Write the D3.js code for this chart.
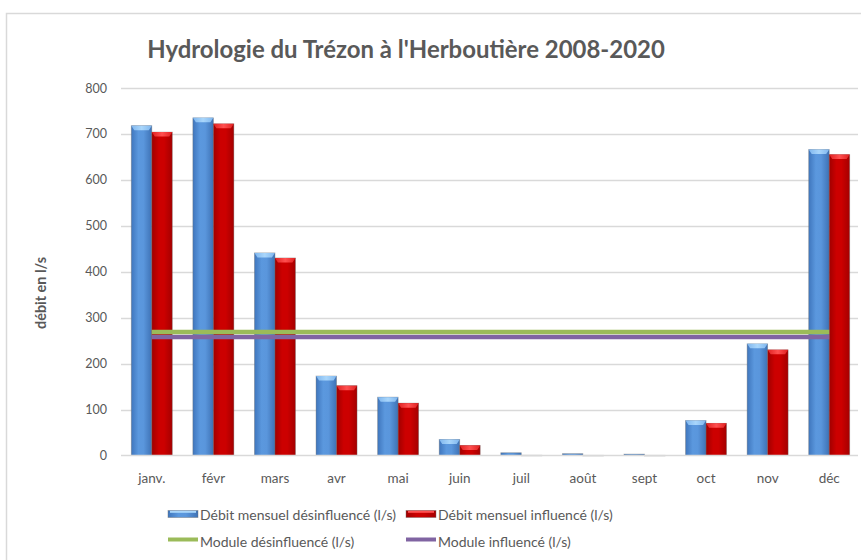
<!DOCTYPE html>
<html><head><meta charset="utf-8">
<script src="https://cdn.jsdelivr.net/npm/d3@7"></script>
<style>
html,body{margin:0;padding:0;background:#fff;}
svg{display:block;font-family:Lato,"Open Sans",sans-serif;}
</style></head>
<body><svg id="chart" width="861" height="560"></svg>
<script>
const months = ["janv.","févr","mars","avr","mai","juin","juil","août","sept","oct","nov","déc"];
const desinfluence = [718, 735, 441, 173, 127, 35, 6, 4, 3, 76, 243, 666];
const influence = [704, 722, 430, 152, 114, 22, 0.6, 0.4, 0.4, 70, 230, 655];
const moduleDesinfluence = 269;
const moduleInfluence = 258;
const yTicks = [0,100,200,300,400,500,600,700,800];
const seriesNames = ["Débit mensuel désinfluencé (l/s)","Débit mensuel influencé (l/s)","Module désinfluencé (l/s)","Module influencé (l/s)"];
const titleText = "Hydrologie du Trézon à l'Herboutière 2008-2020";
const yTitle = "débit en l/s";

const svg = d3.select("#chart");
const defs = svg.append("defs");
function grad(id, stops){
  const g = defs.append("linearGradient").attr("id",id).attr("x1","0").attr("x2","1").attr("y1","0").attr("y2","0");
  stops.forEach(s=>g.append("stop").attr("offset",s[0]).attr("stop-color",s[1]));
}
grad("gBlue",[[0,"#3f76bd"],[0.35,"#5b98de"],[0.6,"#5a96dc"],[1,"#3e72b5"]]);
grad("gRed",[[0,"#a00000"],[0.35,"#cc0000"],[0.6,"#cc0000"],[1,"#a40000"]]);
grad("gBlueTop",[[0,"#7fb6ee"],[0.5,"#a9d6fb"],[1,"#7fb6ee"]]);
grad("gRedTop",[[0,"#e02020"],[0.5,"#ff5050"],[1,"#e02020"]]);

// frame
svg.append("rect").attr("x",6.5).attr("y",13.5).attr("width",870).attr("height",560)
  .attr("fill","#fff").attr("stroke","#d9d9d9").attr("stroke-width",1.5);

const x = d3.scaleBand().domain(months).range([121,860]).paddingInner(0).paddingOuter(0);
const y = d3.scaleLinear().domain([0,800]).range([455.5,88]);
const bw = 20.5;

// gridlines
const grid = svg.append("g");
grid.selectAll("line").data(yTicks.filter(d=>d>0)).join("line")
  .attr("x1",121).attr("x2",858).attr("y1",d=>Math.round(y(d))+0.5).attr("y2",d=>Math.round(y(d))+0.5)
  .attr("stroke","#d9d9d9").attr("stroke-width",1.3);

// y axis labels
const yAxis = d3.axisLeft(y).tickValues(yTicks).tickSize(0).tickPadding(0);
const ya = svg.append("g").attr("transform","translate(107,0)").call(yAxis);
ya.select(".domain").remove();
ya.selectAll("text").attr("font-size",12.5).attr("fill","#595959").attr("font-family","Lato,sans-serif");

// bars
const mcx = d => x(d) + x.bandwidth()/2;
function drawBars(vals, off, fill, topFill){
  const g = svg.append("g");
  months.forEach((m,i)=>{
    const x0 = mcx(m) + off;
    const yt = y(vals[i]);
    const h = y(0) - yt;
    g.append("rect").attr("x",x0).attr("y",yt).attr("width",bw).attr("height",Math.max(h,0.6))
      .attr("fill",fill).attr("stroke","#6a6a6a").attr("stroke-opacity",0.45).attr("stroke-width",0.8);
    if (h > 4){
      const bev = 4.5;
      g.append("path").attr("d",`M${x0},${yt} L${x0+bw},${yt} L${x0+bw-3},${yt+bev} L${x0+3},${yt+bev} Z`)
        .attr("fill",topFill);
    }
  });
}
drawBars(desinfluence, -bw, "url(#gBlue)", "url(#gBlueTop)");
drawBars(influence, 0, "url(#gRed)", "url(#gRedTop)");

// axis baseline
svg.append("line").attr("x1",121).attr("x2",858).attr("y1",455.5).attr("y2",455.5)
  .attr("stroke","#d9d9d9").attr("stroke-width",1.3);

// module lines
const lineGen = d3.line().x(d=>mcx(d[0])).y(d=>y(d[1]));
svg.append("path").attr("d",lineGen(months.map(m=>[m,moduleInfluence])))
  .attr("stroke","#8064a2").attr("stroke-width",4.5).attr("fill","none");
svg.append("path").attr("d",lineGen(months.map(m=>[m,moduleDesinfluence])))
  .attr("stroke","#9bbb59").attr("stroke-width",4.5).attr("fill","none");

// x axis labels
const xAxis = d3.axisBottom(x).tickSize(0).tickPadding(0);
const xa = svg.append("g").attr("transform","translate(0,475)").call(xAxis);
xa.select(".domain").remove();
xa.selectAll("text").attr("font-size",13.5).attr("fill","#595959").attr("font-family","Lato,sans-serif").attr("dy","0.6em");

// helper: fit text width
function fitWidth(sel, target, base){
  const w = sel.node().getComputedTextLength();
  if (w > 0) sel.attr("font-size", base * target / w);
}

// title
const t = svg.append("text").attr("x",406).attr("y",58).attr("text-anchor","middle")
  .attr("font-size",20).attr("font-weight","bold").attr("fill","#595959").text(titleText);
fitWidth(t, 518, 20);

// y title
const yt = svg.append("text").attr("transform","translate(46,293) rotate(-90)").attr("text-anchor","middle")
  .attr("font-size",13).attr("font-weight","bold").attr("fill","#595959").text(yTitle);
fitWidth(yt, 72, 13);

// legend
const lg = svg.append("g");
const legItems = [
  {name:seriesNames[0], x:168, y:514, type:"bar", fill:"url(#gBlue)", top:"#a9d6fb"},
  {name:seriesNames[1], x:406, y:514, type:"bar", fill:"url(#gRed)", top:"#ff5050"},
  {name:seriesNames[2], x:168, y:546, type:"line", color:"#9bbb59"},
  {name:seriesNames[3], x:406, y:546, type:"line", color:"#8064a2"}
];
legItems.forEach(it=>{
  if(it.type==="bar"){
    lg.append("rect").attr("x",it.x).attr("y",it.y-3.5).attr("width",30).attr("height",7)
      .attr("fill",it.fill).attr("stroke","#6a6a6a").attr("stroke-opacity",0.5).attr("stroke-width",0.8);
    lg.append("rect").attr("x",it.x+2).attr("y",it.y-3.2).attr("width",26).attr("height",2).attr("fill",it.top);
  } else {
    lg.append("line").attr("x1",it.x).attr("x2",it.x+30).attr("y1",it.y-6.5).attr("y2",it.y-6.5)
      .attr("stroke",it.color).attr("stroke-width",4);
  }
  lg.append("text").attr("x",it.x+32).attr("y",it.y+ (it.type==="bar"?6:1)).attr("font-size",14)
    .attr("fill","#595959").text(it.name);
});
</script></body></html>
